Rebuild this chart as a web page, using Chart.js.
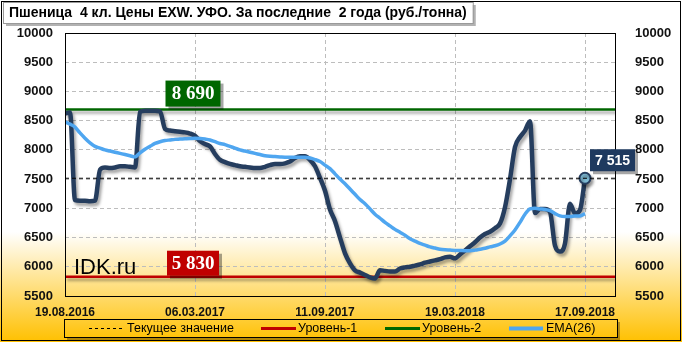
<!DOCTYPE html>
<html><head><meta charset="utf-8">
<script src="https://cdn.jsdelivr.net/npm/chart.js@4.4.1/dist/chart.umd.min.js"></script>
<style>html,body{margin:0;padding:0;background:#fff}#wrap{width:682px;height:342px;position:relative}</style>
</head><body><div id="wrap"><canvas id="c" width="682" height="342"></canvas></div>
<script>
const chartTitle = 'Пшеница  4 кл. Цены EXW. УФО. За последние  2 года (руб./тонна)';
const xTickIndex = [0, 26, 52, 78, 104];
const xTickLabels = ['19.08.2016', '06.03.2017', '11.09.2017', '19.03.2018', '17.09.2018'];
const price = [8620, 8640, 7140, 7130, 7130, 7120, 7130, 7660, 7700, 7690,
  7700, 7720, 7720, 7710, 7700, 8650, 8670, 8670, 8670, 8660,
  8360, 8330, 8320, 8310, 8300, 8280, 8240, 8150, 8100, 8060,
  7930, 7830, 7790, 7760, 7740, 7720, 7710, 7700, 7690, 7690,
  7710, 7740, 7760, 7760, 7770, 7800, 7860, 7890, 7890, 7830,
  7720, 7520, 7300, 6980, 6780, 6500, 6230, 6060, 5940, 5900,
  5860, 5820, 5800, 5940, 5930, 5920, 5920, 5970, 5990, 6000,
  6020, 6040, 6070, 6090, 6110, 6130, 6160, 6170, 6145, 6210,
  6280, 6350, 6420, 6500, 6560, 6600, 6660, 6740, 7020, 7500,
  8050, 8220, 8330, 8490, 6920, 6990, 6990, 6940, 6360, 6260,
  6400, 7080, 6910, 6970, 7515];
const ema = [8480, 8440, 8390, 8290, 8200, 8120, 8060, 8030, 8000, 7980,
  7960, 7940, 7920, 7900, 7880, 7950, 8010, 8060, 8110, 8140,
  8160, 8170, 8180, 8185, 8190, 8195, 8198, 8195, 8185, 8170,
  8140, 8110, 8090, 8060, 8030, 8000, 7980, 7960, 7940, 7920,
  7900, 7890, 7885, 7880, 7875, 7873, 7873, 7873, 7873, 7860,
  7835, 7800, 7740, 7680, 7590, 7500, 7420, 7330, 7240, 7150,
  7080, 6990, 6900, 6830, 6760, 6700, 6640, 6590, 6540, 6480,
  6440, 6400, 6370, 6340, 6320, 6300, 6290, 6285, 6280, 6278,
  6276, 6276, 6285, 6300, 6316, 6340, 6360, 6390, 6440, 6530,
  6630, 6760, 6900, 6990, 7000, 6990, 6980, 6960, 6910, 6870,
  6860, 6860, 6870, 6870, 6910];
const currentValue = 7515;
const level1 = 5830;
const level2 = 8690;
const xMin = 0, xMax = 110;
const yMin = 5500, yMax = 10000, yStep = 500;
const legendNames = ['Текущее значение', 'Уровень-1', 'Уровень-2', 'EMA(26)'];
const watermark = 'IDK.ru';

const C_PRICE = '#253D5E', C_EMA = '#4FA6F0', C_RED = '#C00000', C_GREEN = '#006600', C_NAVY = '#1F3A5F';
const fmt = v => String(v).replace(/\B(?=(\d{3})+(?!\d))/g, ' ');
const pts = arr => arr.map((v, i) => ({x: i, y: v}));
const hline = v => [{x: xMin, y: v}, {x: xMax, y: v}];

const bgPlugin = {
  id: 'bg',
  beforeDraw(chart) {
    const ctx = chart.ctx, W = chart.width, H = chart.height;
    ctx.save();
    const g = ctx.createLinearGradient(0, 0, 0, H);
    g.addColorStop(0, '#FFFFFF');
    g.addColorStop(232 / H, '#FFFFFF');
    g.addColorStop(1, '#FFC000');
    ctx.fillStyle = g;
    ctx.fillRect(0, 0, W, H);
    ctx.restore();
  },
  beforeDatasetsDraw(chart) {
    const ctx = chart.ctx, a = chart.chartArea;
    ctx.save();
    ctx.fillStyle = '#000';
    ctx.font = '22px "Liberation Sans", Arial, sans-serif';
    ctx.textBaseline = 'alphabetic';
    ctx.textAlign = 'left';
    ctx.fillText(watermark, a.left + 9, 274);
    ctx.restore();
  },
  beforeDatasetDraw(chart, args) {
    const ds = chart.data.datasets[args.index];
    if (ds.shadow) {
      const ctx = chart.ctx;
      ctx.save();
      ctx.shadowColor = 'rgba(0,0,0,0.35)';
      ctx.shadowOffsetX = 2;
      ctx.shadowOffsetY = 3;
      ctx.shadowBlur = 3;
    }
  },
  afterDatasetDraw(chart, args) {
    const ds = chart.data.datasets[args.index];
    if (ds.shadow) chart.ctx.restore();
  },
  afterDraw(chart) {
    const ctx = chart.ctx, a = chart.chartArea, xs = chart.scales.x, ys = chart.scales.y;
    ctx.save();
    // plot border
    ctx.strokeStyle = '#000'; ctx.lineWidth = 1;
    ctx.strokeRect(Math.round(a.left) + 0.5, Math.round(a.top) + 0.5, Math.round(a.right - a.left), Math.round(a.bottom - a.top));
    // outer border
    ctx.strokeRect(1.5, 1.5, chart.width - 3, chart.height - 3);
    // title box
    ctx.font = 'bold 14px "Liberation Sans", Arial, sans-serif';
    const tw = ctx.measureText(chartTitle).width;
    const bx = 3, by = 2, bw = tw + 12, bh = 21;
    ctx.fillStyle = 'rgba(0,0,0,0.3)';
    ctx.fillRect(bx + 3, by + 3, bw, bh);
    ctx.fillStyle = '#fff';
    ctx.fillRect(bx, by, bw, bh);
    ctx.strokeStyle = '#9a9a9a';
    ctx.strokeRect(bx + 0.5, by + 0.5, bw, bh);
    ctx.fillStyle = '#000';
    ctx.textBaseline = 'middle';
    ctx.textAlign = 'left';
    ctx.fillText(chartTitle, bx + 6, by + bh / 2 + 1);

    // value boxes
    function box(text, cx, bottom, w, h, color, font, left) {
      const x = left !== undefined ? left : cx - w / 2;
      const y = bottom - h;
      ctx.fillStyle = 'rgba(0,0,0,0.35)';
      ctx.fillRect(x + 3, y + 3, w, h);
      ctx.fillStyle = color;
      ctx.fillRect(x, y, w, h);
      ctx.fillStyle = '#fff';
      ctx.font = font;
      ctx.textAlign = 'center';
      ctx.textBaseline = 'middle';
      ctx.fillText(text, x + w / 2, y + h / 2 + 1);
    }
    const cx = xs.getPixelForValue(xTickIndex[1]) - 2;
    box(fmt(level2), cx, ys.getPixelForValue(level2) - 3, 55, 26, C_GREEN, 'bold 19px "Liberation Serif", "Times New Roman", serif');
    box(fmt(level1), cx, ys.getPixelForValue(level1) - 1, 52, 25, C_RED, 'bold 19px "Liberation Serif", "Times New Roman", serif');
    const lx = xs.getPixelForValue(price.length - 1);
    box(fmt(currentValue), 0, ys.getPixelForValue(currentValue) - 7, 45, 22, C_NAVY, 'bold 14px "Liberation Sans", Arial, sans-serif', lx + 5);

    // legend
    const L = {x: 64, y: 319, w: 553, h: 18};
    ctx.fillStyle = 'rgba(0,0,0,0.3)';
    ctx.fillRect(L.x + 3, L.y + 3, L.w, L.h);
    const g = ctx.createLinearGradient(0, 0, 0, chart.height);
    g.addColorStop(0, '#FFFFFF'); g.addColorStop(232 / chart.height, '#FFFFFF'); g.addColorStop(1, '#FFC000');
    ctx.fillStyle = g;
    ctx.fillRect(L.x, L.y, L.w, L.h);
    ctx.strokeStyle = '#000'; ctx.lineWidth = 1;
    ctx.strokeRect(L.x + 0.5, L.y + 0.5, L.w, L.h);
    const cy = L.y + L.h / 2 + 0.5;
    const items = [
      {x0: 89, x1: 122, tx: 127, color: '#000', w: 1, dash: [3, 3]},
      {x0: 261, x1: 296, tx: 298, color: C_RED, w: 3, dash: []},
      {x0: 385, x1: 420, tx: 422, color: C_GREEN, w: 3, dash: []},
      {x0: 509, x1: 543, tx: 546, color: C_EMA, w: 4, dash: []}
    ];
    ctx.font = '12.5px "Liberation Sans", Arial, sans-serif';
    ctx.textAlign = 'left';
    ctx.textBaseline = 'middle';
    items.forEach((it, i) => {
      ctx.beginPath();
      ctx.setLineDash(it.dash);
      ctx.strokeStyle = it.color;
      ctx.lineWidth = it.w;
      ctx.moveTo(it.x0, cy); ctx.lineTo(it.x1, cy);
      ctx.stroke();
      ctx.setLineDash([]);
      ctx.fillStyle = '#000';
      ctx.fillText(legendNames[i], it.tx, cy + 0.5);
    });
    ctx.restore();
  }
};

const tickFont = {family: '"Liberation Sans", Arial, sans-serif', size: 13, weight: 'bold'};
const plainNum = v => String(v);

new Chart(document.getElementById('c'), {
  type: 'line',
  data: {
    datasets: [
      {label: 'EMA(26)', data: pts(ema), borderColor: C_EMA, borderWidth: 3.5, pointRadius: 0, cubicInterpolationMode: 'monotone', fill: false},
      {label: legendNames[0], data: hline(currentValue), borderColor: '#000', borderWidth: 1.2, borderDash: [4, 3], pointRadius: 0, fill: false},
      {label: 'Цена', data: pts(price), borderColor: C_PRICE, borderWidth: 4.5, cubicInterpolationMode: 'monotone', fill: false, shadow: true,
        pointRadius: c => c.dataIndex === price.length - 1 ? 5.5 : 0,
        pointBackgroundColor: '#7FBCD6', pointBorderColor: C_PRICE, pointBorderWidth: 2},
      {label: legendNames[1], data: hline(level1), borderColor: C_RED, borderWidth: 2.5, pointRadius: 0, fill: false, shadow: true},
      {label: legendNames[2], data: hline(level2), borderColor: C_GREEN, borderWidth: 2.5, pointRadius: 0, fill: false, shadow: true}
    ]
  },
  options: {
    responsive: false,
    animation: false,
    devicePixelRatio: 1,
    layout: {padding: {top: 33, left: 0, right: 0, bottom: 0}},
    plugins: {legend: {display: false}, tooltip: {enabled: false}, title: {display: false}},
    scales: {
      x: {
        type: 'linear', min: xMin, max: xMax,
        afterFit: s => { s.height = 46; },
        afterBuildTicks: s => { s.ticks = xTickIndex.map(v => ({value: v})); },
        ticks: {autoSkip: false, maxRotation: 0, padding: 9, color: '#111',
          font: {family: '"Liberation Sans", Arial, sans-serif', size: 12, weight: 'bold'},
          callback: v => { const k = xTickIndex.indexOf(v); return k >= 0 ? xTickLabels[k] : ''; }},
        grid: {color: '#BDBDBD', drawTicks: false, lineWidth: 1},
        border: {display: false, dash: [4, 3]}
      },
      y: {
        position: 'left', min: yMin, max: yMax,
        afterFit: s => { s.width = 65; },
        ticks: {stepSize: yStep, padding: 12, color: '#111', font: tickFont, callback: plainNum},
        grid: {color: '#BDBDBD', drawTicks: false, lineWidth: 1},
        border: {display: false, dash: [4, 3]}
      },
      y2: {
        position: 'right', min: yMin, max: yMax,
        afterFit: s => { s.width = 67; },
        ticks: {stepSize: yStep, padding: 12, color: '#111', font: tickFont, callback: plainNum},
        grid: {display: false},
        border: {display: false}
      }
    }
  },
  plugins: [bgPlugin]
});
</script>
</body></html>
